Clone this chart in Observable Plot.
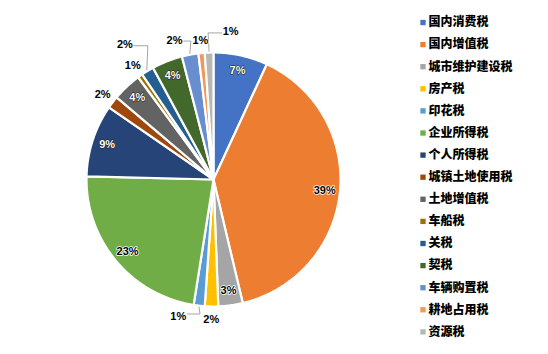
<!DOCTYPE html>
<html><head><meta charset="utf-8">
<script src="https://cdn.jsdelivr.net/npm/d3@7"></script>
<script src="https://cdn.jsdelivr.net/npm/@observablehq/plot@0.6"></script>
<style>
html,body{margin:0;padding:0;background:#fff;}
</style></head>
<body><div id="chart"></div>
<script>
const categories = ["国内消费税","国内增值税","城市维护建设税","房产税","印花税","企业所得税","个人所得税","城镇土地使用税","土地增值税","车船税","关税","契税","车辆购置税","耕地占用税","资源税"];
const values = [6.9, 39.4, 3.1, 1.7, 1.4, 22.9, 9.2, 1.6, 3.7, 0.6, 1.6, 3.9, 2.1, 0.8, 1.1];
const colors = ["#4472C4","#ED7D31","#A5A5A5","#FFC000","#5B9BD5","#70AD47","#264478","#9E480E","#636363","#997300","#255E91","#43682B","#698ED0","#F1975A","#B7B7B7"];

// layout (pixels)
const W = 548, H = 354, CX = 213, CY = 179, R = 127;
const toX = px => (px - CX) / R, toY = py => (CY - py) / R;
const darkLabel = new Set([0, 6, 8, 11]);
const outside = new Set([3, 4, 7, 9, 10, 12, 13, 14]);
const labelAdjust = {4: [8, 1.11], 10: [-2, 1.27], 12: [-5, 1.14], 14: [8.6, 1.17]};
const leaders = new Set([4, 10, 12, 14]);

const arcs = d3.pie().sort(null).value(d => d)(values);
const slices = [];
arcs.forEach((a, i) => {
  slices.push({id: i, cat: categories[i], x: 0, y: 0});
  const n = Math.max(4, Math.ceil((a.endAngle - a.startAngle) / 0.01));
  for (let k = 0; k <= n; k++) {
    const t = a.startAngle + (a.endAngle - a.startAngle) * k / n;
    slices.push({id: i, cat: categories[i], x: Math.sin(t), y: Math.cos(t)});
  }
  slices.push({id: i, cat: categories[i], x: 0, y: 0});
});

const labels = arcs.map((a, i) => {
  let mid = (a.startAngle + a.endAngle) / 2;
  let r = outside.has(i) ? 1.1 : 0.88;
  if (labelAdjust[i]) { mid += labelAdjust[i][0] * Math.PI / 180; r = labelAdjust[i][1]; }
  return {i, text: Math.round(values[i]) + "%", x: r * Math.sin(mid), y: r * Math.cos(mid), dark: darkLabel.has(i)};
});

const leaderPts = [];
arcs.forEach((a, i) => {
  if (!leaders.has(i)) return;
  const mid = (a.startAngle + a.endAngle) / 2;
  const sx = 1.01 * Math.sin(mid), sy = 1.01 * Math.cos(mid);
  const L = labels[i];
  const side = sx > L.x ? 1 : -1;
  const hw = 9 / R;
  const ly = L.y + (sy > L.y ? 2 / R : -1 / R);
  leaderPts.push({id: i, x: sx, y: sy});
  leaderPts.push({id: i, x: sx + side * 1 / R, y: ly});
  leaderPts.push({id: i, x: L.x + side * hw, y: ly});
});

const legend = categories.map((c, i) => ({cat: c, x: toX(422.5), tx: toX(428), y: toY(22 + 22.1 * i)}));

const chart = Plot.plot({
  width: W, height: H,
  marginTop: 0, marginBottom: 0, marginLeft: 0, marginRight: 0,
  x: {domain: [toX(0), toX(W)], range: [0, W], axis: null},
  y: {domain: [toY(H), toY(0)], range: [H, 0], axis: null},
  color: {domain: categories, range: colors},
  marks: [
    Plot.line(slices, {x: "x", y: "y", z: "id", fill: "cat", stroke: "white", strokeWidth: 2.2, strokeLinejoin: "round", curve: "linear"}),
    Plot.line(leaderPts, {x: "x", y: "y", z: "id", stroke: "#A6A6A6", strokeWidth: 1}),
    Plot.text(labels.filter(d => !d.dark), {x: "x", y: "y", text: "text", fill: "black", stroke: "white", strokeWidth: 1.5, fontSize: 11, fontWeight: "bold", fontFamily: "Liberation Sans, Arial, sans-serif"}),
    Plot.text(labels.filter(d => d.dark), {x: "x", y: "y", text: "text", fill: "white", stroke: "#1a1a1a", strokeWidth: 1, fontSize: 11, fontWeight: "bold", fontFamily: "Liberation Sans, Arial, sans-serif"}),
    Plot.dot(legend, {x: "x", y: "y", fill: "cat", symbol: "square", r: 3}),
    Plot.text(legend, {x: "tx", y: "y", text: "cat", textAnchor: "start", fill: "black", fontSize: 12, fontWeight: 900, fontFamily: "Noto Sans CJK SC, sans-serif"})
  ]
});
document.getElementById("chart").appendChild(chart);
</script>
</body></html>
